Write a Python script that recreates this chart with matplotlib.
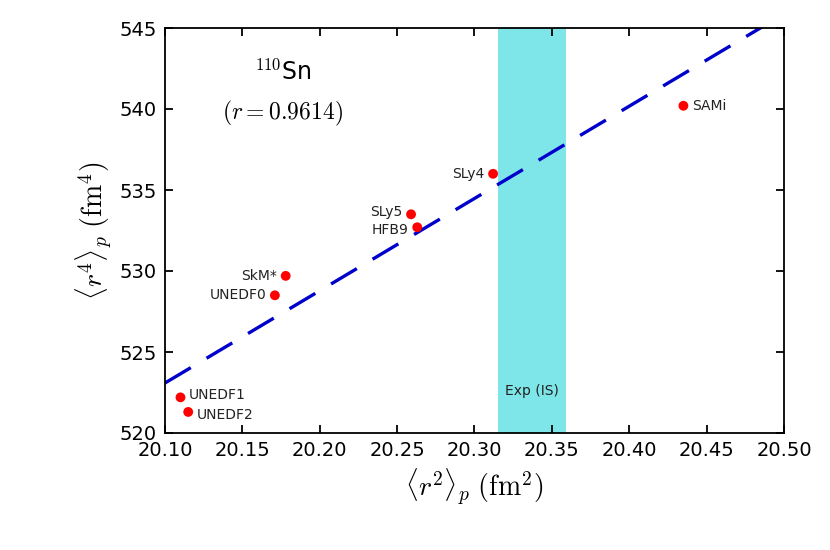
import numpy as np
import matplotlib
matplotlib.use("Agg")
import matplotlib.pyplot as plt
plt.rcParams['mathtext.fontset'] = 'cm'

names = ["SAMi", "SLy4", "SLy5", "HFB9", "SkM*", "UNEDF0", "UNEDF1", "UNEDF2"]
r2 = [20.435, 20.312, 20.259, 20.263, 20.178, 20.171, 20.110, 20.115]
r4 = [540.2, 536.0, 533.5, 532.7, 529.7, 528.5, 522.2, 521.3]
exp_band = [20.315, 20.359]
xticks = [20.10, 20.15, 20.20, 20.25, 20.30, 20.35, 20.40, 20.45, 20.50]
yticks = [520, 525, 530, 535, 540, 545]

fig = plt.figure(figsize=(8.3, 5.5), dpi=100)
ax = fig.add_axes([165/830, 1-433/550, 619/830, 405/550])
ax.axvspan(exp_band[0], exp_band[1], color="#7ee6e8", lw=0, zorder=0)
ax.text(sum(exp_band)/2, 522.6, "Exp (IS)", ha="center", va="center", fontsize=10, color="#222222")

k, b = np.polyfit(r2, r4, 1)
xl = np.array([20.10, 20.50])
ax.plot(xl, k*xl+b, color="#0000cc", ls=(0, (9, 5.5)), lw=2.4, zorder=2)
ax.scatter(r2, r4, color="red", s=50, zorder=3, edgecolors="none")

offs = {"SAMi": (6, 0, "left"), "SLy4": (-6, 0, "right"), "SLy5": (-6, 2, "right"),
        "HFB9": (-6, -2, "right"), "SkM*": (-6, 0, "right"), "UNEDF0": (-6, 0, "right"),
        "UNEDF1": (6, 2, "left"), "UNEDF2": (6, -2, "left")}
for n, x, y in zip(names, r2, r4):
    dx, dy, ha = offs[n]
    ax.annotate(n, (x, y), xytext=(dx, dy), textcoords="offset points", ha=ha, va="center",
                fontsize=10, color="#222222")

ax.text(0.19, 0.89, r"$^{110}$Sn", transform=ax.transAxes, ha="center", va="center", fontsize=17)
ax.text(0.19, 0.79, r"$(r=0.9614)$", transform=ax.transAxes, ha="center", va="center", fontsize=17)

ax.set_xlim(20.10, 20.50)
ax.set_ylim(520, 545)
ax.set_xticks(xticks)
ax.set_xticklabels([f"{t:.2f}" for t in xticks])
ax.set_yticks(yticks)
for s in ax.spines.values():
    s.set_linewidth(1.3)
ax.tick_params(direction="in", top=True, right=True, labelsize=14, length=6, width=1.3, pad=6)
ax.set_xlabel(r"$\langle r^2\rangle_p\ (\mathrm{fm}^2)$", fontsize=20)
ax.set_ylabel(r"$\langle r^4\rangle_p\ (\mathrm{fm}^4)$", fontsize=20)
fig.savefig("out.png", dpi=100)
